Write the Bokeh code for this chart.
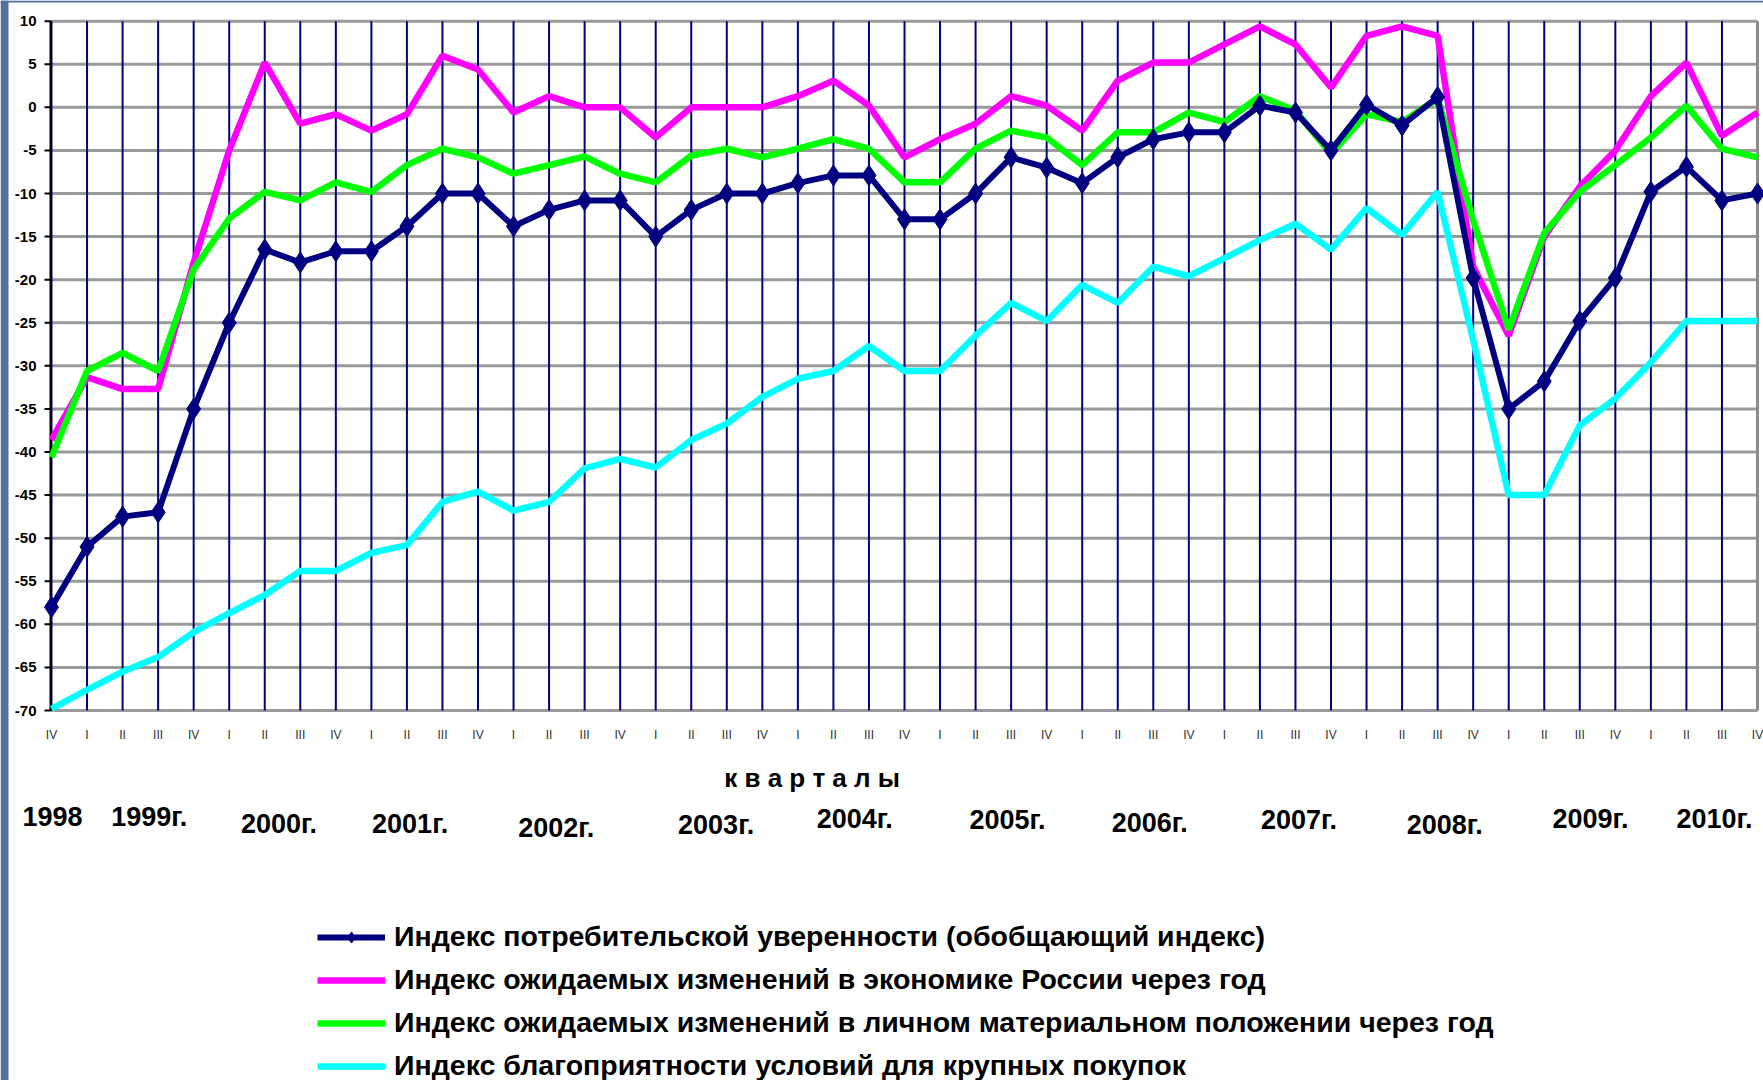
from bokeh.plotting import figure
from bokeh.models import Range1d, Legend, LegendItem, ColumnDataSource, BoxAnnotation
from bokeh.core.properties import value
from bokeh.embed import file_html
from bokeh.resources import INLINE

# ---- data -------------------------------------------------------------
quarter_labels = ["IV"] + ["I", "II", "III", "IV"] * 12
x = list(range(len(quarter_labels)))

consumer_confidence = [-58, -51, -47.5, -47, -35, -25, -16.5, -18, -16.7, -16.7,
                       -13.8, -10, -10, -13.8, -11.9, -10.8, -10.8, -15, -11.9, -10,
                       -10, -8.8, -7.9, -7.9, -13, -13, -10, -5.8, -7, -8.8,
                       -5.8, -3.7, -2.9, -2.9, 0.2, -0.6, -5, 0.3, -2.1, 1.2,
                       -19.8, -35, -31.8, -24.8, -19.8, -9.8, -6.9, -10.8, -10]
economy_expect = [-38.6, -31.3, -32.7, -32.7, -18, -5, 5.2, -1.9, -0.8, -2.7,
                  -0.8, 6, 4.4, -0.6, 1.3, 0, 0, -3.5, 0, 0,
                  0, 1.3, 3.1, 0.2, -5.8, -3.7, -1.9, 1.3, 0.2, -2.7,
                  3.1, 5.2, 5.2, 7.3, 9.4, 7.3, 2.3, 8.3, 9.4, 8.3,
                  -18.5, -26.5, -15, -9.2, -5, 1.3, 5.2, -3.3, -0.6]
personal_expect = [-40.6, -30.6, -28.5, -30.6, -18.8, -12.9, -9.8, -10.8, -8.7, -9.8,
                   -6.7, -4.8, -5.8, -7.7, -6.7, -5.7, -7.7, -8.7, -5.6, -4.8,
                   -5.8, -4.8, -3.7, -4.8, -8.7, -8.7, -4.8, -2.7, -3.5, -6.7,
                   -2.9, -2.9, -0.6, -1.7, 1.3, -0.4, -5.4, -0.8, -1.7, 1,
                   -13.1, -25.8, -14.6, -9.8, -6.7, -3.5, 0.2, -4.8, -5.8]
big_purchases = [-69.8, -67.6, -65.5, -63.8, -60.9, -58.7, -56.6, -53.8, -53.8, -51.7,
                 -50.8, -45.8, -44.6, -46.8, -45.8, -41.9, -40.8, -41.8, -38.6, -36.7,
                 -33.6, -31.5, -30.6, -27.7, -30.6, -30.6, -26.5, -22.7, -24.8, -20.6,
                 -22.7, -18.5, -19.6, -17.5, -15.4, -13.5, -16.5, -11.7, -14.8, -9.8,
                 -27, -45, -45, -36.9, -33.8, -29.6, -24.8, -24.8, -24.8]

series_names = [
    "Индекс потребительской уверенности (обобщающий индекс)",
    "Индекс ожидаемых изменений в экономике России через год",
    "Индекс ожидаемых изменений в личном материальном положении через год",
    "Индекс благоприятности условий для крупных покупок",
]

axis_title = "к в а р т а л ы"
axis_title_pos = 21.4

year_labels = ["1998", "1999г.", "2000г.", "2001г.", "2002г.", "2003г.", "2004г.",
               "2005г.", "2006г.", "2007г.", "2008г.", "2009г.", "2010г."]
year_pos = [0.03, 2.75, 6.4, 10.09, 14.2, 18.7, 22.6, 26.9, 30.9, 35.1, 39.2, 43.3, 46.79]

y_ticks = list(range(-70, 11, 5))
Y_MIN, Y_MAX = -70, 10
X_MIN, X_MAX = 0, 48

# ---- layout (pixels) --------------------------------------------------
W, H = 1763, 1080
PLOT_L, PLOT_R = 51, 1757
PLOT_T, PLOT_B = 20.7, 710
SX = (PLOT_R - PLOT_L) / (X_MAX - X_MIN)
SY = (PLOT_B - PLOT_T) / (Y_MAX - Y_MIN)


def row(px):
    """vertical pixel row -> value on the y scale"""
    return Y_MAX - (px - PLOT_T) / SY


QUARTER_ROW_PX = 734
TITLE_ROW_PX = 777
year_row_px = [816, 816, 823, 823, 827, 824, 818, 819.5, 822, 819.5, 824, 818, 818]

FONT = "Liberation Sans"

p = figure(width=W, height=H,
           x_range=Range1d(X_MIN - PLOT_L / SX, X_MAX + (W - PLOT_R) / SX),
           y_range=Range1d(Y_MIN - (H - PLOT_B) / SY, Y_MAX + PLOT_T / SY),
           output_backend="svg", toolbar_location=None, title=None,
           x_axis_location=None, y_axis_location=None,
           min_border_left=0, min_border_right=0, min_border_top=0, min_border_bottom=0)
p.background_fill_color = "white"
p.border_fill_color = "white"
p.outline_line_color = None
p.xgrid.visible = False
p.ygrid.visible = False

# slide background strips
p.add_layout(BoxAnnotation(right=X_MIN - (PLOT_L - 8) / SX, fill_color="#52729c",
                           fill_alpha=1, line_color=None))
p.add_layout(BoxAnnotation(bottom=Y_MAX + (PLOT_T - 2) / SY, fill_color="#52729c",
                           fill_alpha=1, line_color=None))

# grid lines drawn from the tick arrays
p.segment(x0=[X_MIN] * len(y_ticks), y0=y_ticks, x1=[X_MAX] * len(y_ticks), y1=y_ticks,
          line_color="#9a9a9a", line_width=3)
v_x = x[:-1]
p.segment(x0=v_x, y0=[Y_MIN] * len(v_x), x1=v_x, y1=[Y_MAX] * len(v_x),
          line_color="#000080", line_width=2)
p.segment(x0=[X_MAX], y0=[Y_MIN], x1=[X_MAX], y1=[Y_MAX], line_color="#8a8a8a", line_width=3)
p.segment(x0=[X_MIN - 1 / SX], y0=[Y_MIN], x1=[X_MIN - 1 / SX], y1=[Y_MAX],
          line_color="black", line_width=2)

# y axis ticks and labels
p.segment(x0=[X_MIN - 7 / SX] * len(y_ticks), y0=y_ticks, x1=[X_MIN] * len(y_ticks), y1=y_ticks,
          line_color="black", line_width=2)
p.text(x=[X_MIN] * len(y_ticks), y=y_ticks, text=[str(t) for t in y_ticks],
       x_offset=-15, text_font=value(FONT), text_font_style="bold", text_font_size="15px",
       text_color="black", text_align="right", text_baseline="middle")

# quarter labels
q_src = ColumnDataSource(dict(x=x, y=[row(QUARTER_ROW_PX)] * len(x), t=quarter_labels))
p.text(x="x", y="y", text="t", source=q_src, text_font=value(FONT),
       text_font_size="12px", text_color="#333333", text_align="center",
       text_baseline="middle")

# axis title and years
p.text(x=[axis_title_pos], y=[row(TITLE_ROW_PX)], text=[axis_title], text_font=value(FONT),
       text_font_style="bold", text_font_size="26px", text_color="black",
       text_align="center", text_baseline="middle")
y_src = ColumnDataSource(dict(x=year_pos, y=[row(v) for v in year_row_px], t=year_labels))
p.text(x="x", y="y", text="t", source=y_src, text_font=value(FONT),
       text_font_style="bold", text_font_size="27px", text_color="black",
       text_align="center", text_baseline="middle")

# series
r_cyan = p.line(x, big_purchases, line_color="#00FFFF", line_width=6.5)
r_mag = p.line(x, economy_expect, line_color="#FF00FF", line_width=6.5)
r_green = p.line(x, personal_expect, line_color="#00FF00", line_width=6.5)
r_navy = p.line(x, consumer_confidence, line_color="#000080", line_width=6)
r_navy_pts = p.scatter(x, consumer_confidence, marker="diamond", size=21,
                       fill_color="#000080", line_color="#000080")

legend = Legend(items=[
    LegendItem(label=series_names[0], renderers=[r_navy, r_navy_pts]),
    LegendItem(label=series_names[1], renderers=[r_mag]),
    LegendItem(label=series_names[2], renderers=[r_green]),
    LegendItem(label=series_names[3], renderers=[r_cyan]),
], location=(317, -2))
legend.background_fill_alpha = 0
legend.border_line_color = None
legend.padding = 0
legend.margin = 0
legend.spacing = 10
legend.glyph_width = 68
legend.glyph_height = 28
legend.label_height = 28
legend.label_standoff = 9
legend.label_text_font = FONT
legend.label_text_font_style = "bold"
legend.label_text_font_size = "28.5px"
legend.label_text_color = "black"
legend.label_text_baseline = "middle"
p.add_layout(legend, "center")

open("out.html", "w").write(file_html(p, INLINE))
